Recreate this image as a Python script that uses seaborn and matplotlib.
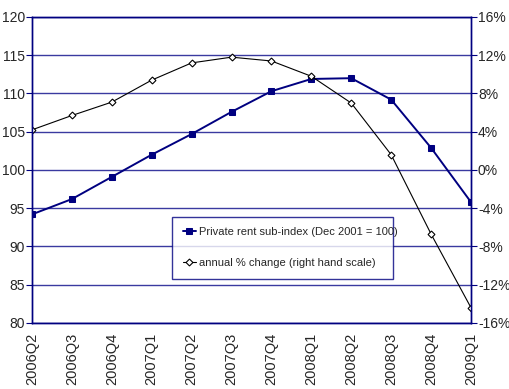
import matplotlib
matplotlib.use("Agg")
import matplotlib.pyplot as plt
import seaborn as sns
import pandas as pd
from matplotlib.ticker import FuncFormatter

quarters = ["2006Q2", "2006Q3", "2006Q4", "2007Q1", "2007Q2", "2007Q3",
            "2007Q4", "2008Q1", "2008Q2", "2008Q3", "2008Q4", "2009Q1"]
rent_index = [94.2, 96.2, 99.1, 102.0, 104.7, 107.6, 110.3, 111.9, 112.0, 109.2, 102.9, 95.8]
annual_change = [4.2, 5.7, 7.1, 9.4, 11.2, 11.8, 11.4, 9.8, 7.0, 1.6, -6.7, -14.4]

label1 = "Private rent sub-index (Dec 2001 = 100)"
label2 = "annual % change (right hand scale)"

sns.set_style("white")
plt.rcParams["font.family"] = ["Liberation Sans", "DejaVu Sans"]

navy = "#000080"
gridc = "#3a3aa0"

df = pd.DataFrame({"quarter": quarters, "rent": rent_index, "chg": annual_change})

fig = plt.figure(figsize=(5.09, 3.89), dpi=100)
ax = fig.add_axes([0.0629, 0.1697, 0.8624, 0.7866])
ax2 = ax.twinx()

sns.lineplot(data=df, x="quarter", y="rent", ax=ax, color=navy, lw=1.4,
             marker="s", markersize=4.5, markeredgecolor=navy, sort=False, label=label1, legend=False)
sns.lineplot(data=df, x="quarter", y="chg", ax=ax2, color="black", lw=0.8,
             marker="D", markersize=3.5, markerfacecolor="white", markeredgecolor="black",
             markeredgewidth=0.8, sort=False, label=label2, legend=False)

ax.set_ylim(80, 120)
ax.set_yticks(range(80, 121, 5))
ax2.set_ylim(-16, 16)
ax2.set_yticks(range(-16, 17, 4))
ax2.yaxis.set_major_formatter(FuncFormatter(lambda v, p: f"{int(v)}%"))
ax.set_xlim(0, len(quarters) - 1)
ax.set_xticks(range(len(quarters)))
ax.set_xticklabels(quarters, rotation=90)
ax.set_xlabel("")
ax.set_ylabel("")
ax2.set_ylabel("")

for y in range(80, 121, 5):
    ax.axhline(y, color=gridc, lw=1.0, zorder=0)

for a in (ax, ax2):
    for s in a.spines.values():
        s.set_color(navy)
        s.set_linewidth(1.0)
ax.tick_params(axis="y", direction="out", length=4, color=navy, labelsize=10, pad=1)
ax2.tick_params(axis="y", direction="out", length=4, color=navy, labelsize=10, pad=1)
ax.tick_params(axis="x", direction="out", length=4, color=navy, labelsize=10.5, pad=3)

h1, l1 = ax.get_legend_handles_labels()
h2, l2 = ax2.get_legend_handles_labels()
leg = ax2.legend(h1 + h2, l1 + l2, loc="lower left", bbox_to_anchor=(0.319, 0.144, 0.503, 0.2),
                 mode="expand", borderaxespad=0, fontsize=8, frameon=True, fancybox=False,
                 handlelength=1.2, labelspacing=1.9, borderpad=0.95, handletextpad=0.3)
leg.get_frame().set_edgecolor(navy)
leg.get_frame().set_linewidth(1.0)

fig.savefig("out.png", dpi=100)
